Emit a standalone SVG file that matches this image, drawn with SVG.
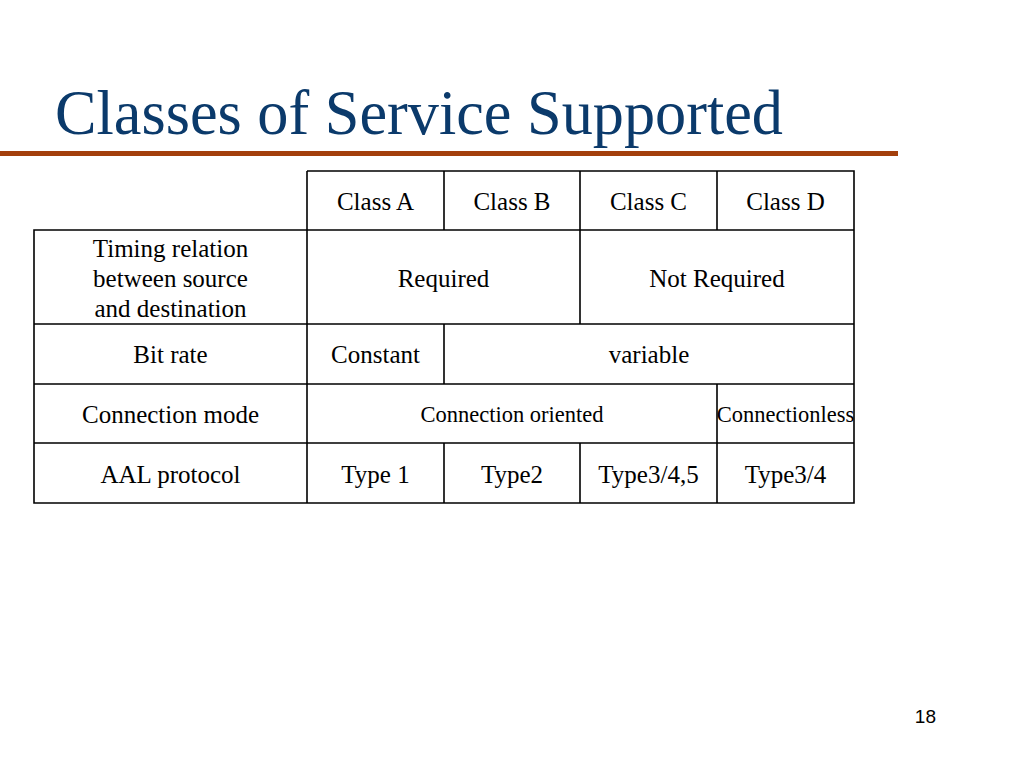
<svg xmlns="http://www.w3.org/2000/svg" width="1024" height="768" viewBox="0 0 1024 768">
<style>
.t{font-family:"Liberation Serif","Times New Roman",serif;font-size:25px;fill:#000;text-anchor:middle}
.s{font-size:22.5px}
.ln{stroke:#000;stroke-width:1.6;fill:none}
</style>
<rect width="1024" height="768" fill="#fff"/>
<text x="55" y="134" font-family="Liberation Serif, Times New Roman, serif" font-size="64" fill="#0B3A6B" textLength="728" lengthAdjust="spacingAndGlyphs">Classes of Service Supported</text>
<rect x="0" y="151" width="898" height="5" fill="#A33F0C"/>
<g id="grid">
<path class="ln" d="M307,171H854V503H34V230H854M34,324H854M34,384H854M34,443H854M307,171V503M444,171V230M580,171V324M717,171V230M444,324V384M444,443V503M580,443V503M717,384V503"/>
</g>
<g id="header">
<text class="t" x="375.5" y="210">Class A</text>
<text class="t" x="512" y="210">Class B</text>
<text class="t" x="648.5" y="210">Class C</text>
<text class="t" x="785.5" y="210">Class D</text>
</g>
<g id="row-timing">
<text class="t" x="170.5" y="257">Timing relation</text>
<text class="t" x="170.5" y="287">between source</text>
<text class="t" x="170.5" y="317">and destination</text>
<text class="t" x="443.5" y="287">Required</text>
<text class="t" x="717" y="287">Not Required</text>
</g>
<g id="row-bitrate">
<text class="t" x="170.5" y="363">Bit rate</text>
<text class="t" x="375.5" y="363">Constant</text>
<text class="t" x="649" y="363">variable</text>
</g>
<g id="row-mode">
<text class="t" x="170.5" y="423">Connection mode</text>
<text class="t s" x="512" y="422">Connection oriented</text>
<text class="t s" x="785.5" y="422">Connectionless</text>
</g>
<g id="row-aal">
<text class="t" x="170.5" y="483">AAL protocol</text>
<text class="t" x="375.5" y="483">Type 1</text>
<text class="t" x="512" y="483">Type2</text>
<text class="t" x="648.5" y="483">Type3/4,5</text>
<text class="t" x="785.5" y="483">Type3/4</text>
</g>
<text x="936" y="723" font-family="Liberation Sans, Arial, sans-serif" font-size="19" text-anchor="end" fill="#000">18</text>
</svg>
